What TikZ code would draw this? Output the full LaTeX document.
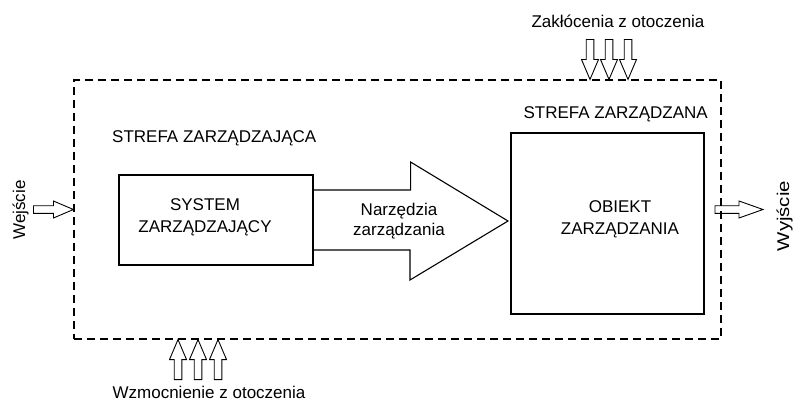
\documentclass[tikz,border=0pt]{standalone}
\usepackage{fontspec}
\setmainfont{Liberation Sans}
\usepackage{tikz}

\begin{document}
\begin{tikzpicture}
  [
    x=1pt, y=-1pt,
    txt/.style={
       inner sep=0pt,
       font=\fontsize{17}{22}\selectfont,
       align=center
    },
    blok/.style={
       draw=black,
       line width=1.1pt
    },
    ramka/.style={
       draw=black,
       line width=1.1pt,
       dash pattern=on 8pt off 5pt
    },
    strzalka/.pic={
       \draw[blok, line width=0.9pt] (0,0) -- (-20,-8.5) -- (-20,-3.8) -- (-40,-3.8)
            -- (-40,3.8) -- (-20,3.8) -- (-20,8.5) -- cycle;
    }
  ]
  \useasboundingbox (0,0) rectangle (793,407);

  % strefy
  \node (strefa) at (397.5,209.5) [ramka, minimum width=647pt, minimum height=259pt] {};
  \node (system) at (216,220)     [blok, minimum width=194pt, minimum height=90pt]   {};
  \node (obiekt) at (607.5,223.5) [blok, minimum width=193pt, minimum height=181pt]  {};

  \node (strefaZ) at (112,142) [txt, anchor=base west] {STREFA ZARZĄDZAJĄCA};
  \node (strefaO) at (708,118) [txt, anchor=base east] {STREFA ZARZĄDZANA};
  \node (systemT) at (205,217) [txt] {SYSTEM\\ZARZĄDZAJĄCY};
  \node (obiektT) at (620,219) [txt] {OBIEKT\\ZARZĄDZANIA};

  % narzedzia
  \coordinate (tip) at (508,221);
  \draw [blok] (system.east) ++(0,-30) -- ++(97,0) -- ++(0,-28) -- (tip)
        -- ++(-98,59) -- ++(0,-30) -- ++(-97,0);
  \node (narz) at (399,221) [txt, font=\fontsize{17}{20}\selectfont] {Narzędzia\\zarządzania};

  % wejscie / wyjscie
  \node (wej) at (25,210)  [txt, rotate=90, anchor=base] {Wejście};
  \node (wyj) at (789,216) [txt, rotate=90, anchor=base] {\addfontfeatures{FakeStretch=1.2}Wyjście};
  \pic at (strefa.west) {strzalka};
  \pic [xscale=1.2] at (763,209.5) {strzalka};

  % otoczenie
  \node (zakl) at (618,27)  [txt, anchor=base] {Zakłócenia z otoczenia};
  \node (wzm)  at (209,398) [txt, anchor=base] {Wzmocnienie z otoczenia};
  \foreach \x in {590,609,628}
    \pic [rotate=-90] at (\x,0 |- strefa.north) {strzalka};
  \foreach \x in {178,198,218}
    \pic [rotate=90] at (\x,0 |- strefa.south) {strzalka};
\end{tikzpicture}
\end{document}
